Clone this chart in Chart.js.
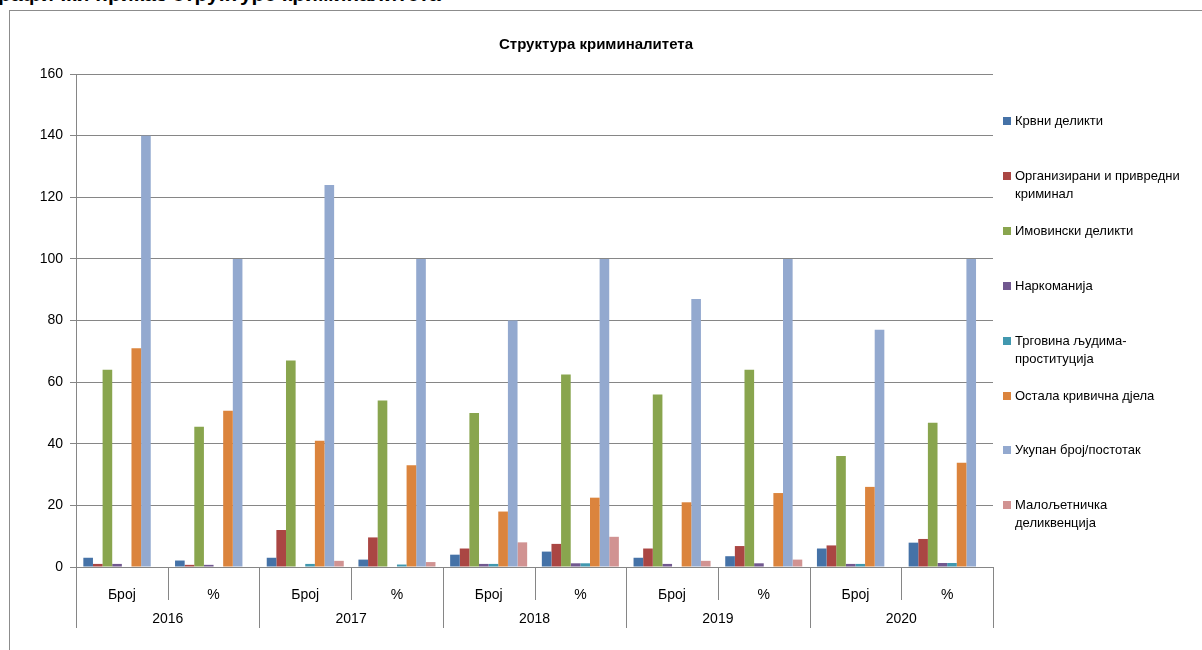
<!DOCTYPE html>
<html>
<head>
<meta charset="utf-8">
<script src="https://cdn.jsdelivr.net/npm/chart.js@4.4.1/dist/chart.umd.min.js"></script>
<style>
    body { margin: 0; width: 1202px; height: 650px; overflow: hidden; background: #fff; position: relative; font-family: 'Liberation Sans', Arial, sans-serif; }
    #head { position: absolute; left: -13px; top: -18px; font: bold 21px 'Liberation Sans', Arial, sans-serif; white-space: nowrap; color: #000; }
    #frame { position: absolute; left: 9px; top: 10px; width: 1300px; height: 700px; border: 1px solid #8c8c8c; background: #fff; }
    #wrap { position: absolute; left: 0; top: 0; width: 1202px; height: 650px; }
    #title { position: absolute; left: 396px; width: 400px; top: 35px; text-align: center; font: bold 15px 'Liberation Sans', Arial, sans-serif; color: #000; }
    #legend { position: absolute; left: 1003px; top: 0; }
    .item { position: absolute; left: 0; width: 195px; display: flex; align-items: flex-start; font-size: 13px; line-height: 18px; color: #000; white-space: pre-line; }
    .box { width: 8px; height: 8px; margin-top: 5px; margin-right: 4px; flex: none; }
</style>
</head>
<body>
<div id="head">Графички приказ структуре криминалитета</div>
<div id="frame"></div>
<div id="wrap"><canvas id="chart" width="1202" height="650"></canvas></div>
<div id="title">Структура криминалитета</div>
<div id="legend"></div>
<script>
// DATA
const categories = ['Број', '%', 'Број', '%', 'Број', '%', 'Број', '%', 'Број', '%'];
const years = ['2016', '2017', '2018', '2019', '2020'];
const yTicks = [0, 20, 40, 60, 80, 100, 120, 140, 160];

const seriesNames = [
    'Крвни деликти',
    'Организирани и привредни\nкриминал',
    'Имовински деликти',
    'Наркоманија',
    'Трговина људима-\nпроституција',
    'Остала кривична дјела',
    'Укупан број/постотак',
    'Малољетничка\nделиквенција'
];
const seriesColors = ['#4572A7', '#AA4643', '#89A54E', '#71588F', '#4198AF', '#DB843D', '#93A9CF', '#D19392'];

const krvni = [3, 2.1, 3, 2.4, 4, 5, 3, 3.5, 6, 7.9];
const organizirani = [1, 0.7, 12, 9.6, 6, 7.5, 6, 6.8, 7, 9.1];
const imovinski = [64, 45.5, 67, 54, 50, 62.5, 56, 64, 36, 46.8];
const narkomanija = [1, 0.7, 0, 0, 1, 1.2, 1, 1.2, 1, 1.3];
const trgovina = [0, 0, 1, 0.8, 1, 1.2, 0, 0, 1, 1.3];
const ostala = [71, 50.7, 41, 33, 18, 22.5, 21, 24, 26, 33.8];
const ukupno = [140, 100, 124, 100, 80, 100, 87, 100, 77, 100];
const maloljetnicka = [0, 0, 2, 1.6, 8, 9.8, 2, 2.4, 0, 0];

const seriesValues = [krvni, organizirani, imovinski, narkomanija, trgovina, ostala, ukupno, maloljetnicka];

// HTML legend
const legendEl = document.getElementById('legend');
seriesNames.forEach((name, i) => {
    const item = document.createElement('div');
    item.className = 'item';
    item.style.top = (112 + i * 54.9) + 'px';
    item.innerHTML = '<span class="box" style="background:' + seriesColors[i] + '"></span><span></span>';
    item.lastChild.textContent = name;
    legendEl.appendChild(item);
});

// year labels and separators under the category axis
const groupAxis = {
    id: 'groupAxis',
    afterDraw(chart) {
        const x = chart.scales.x;
        const ctx = chart.ctx;
        const bottom = chart.chartArea.bottom;
        const w = (x.right - x.left) / categories.length;
        ctx.save();
        ctx.strokeStyle = '#868686';
        ctx.lineWidth = 1;
        for (let i = 0; i <= categories.length; i++) {
            const px = Math.round(x.left + i * w) + 0.5;
            ctx.beginPath();
            ctx.moveTo(px, bottom);
            ctx.lineTo(px, bottom + (i % 2 === 0 ? 61 : 33));
            ctx.stroke();
        }
        ctx.fillStyle = '#000';
        ctx.font = "14px 'Liberation Sans', Arial, sans-serif";
        ctx.textAlign = 'center';
        ctx.textBaseline = 'middle';
        years.forEach((yr, k) => {
            const cx = x.left + (2 * k + 1) * w;
            ctx.fillText(yr, cx, bottom + 52);
        });
        ctx.restore();
    }
};

const ctx = document.getElementById('chart').getContext('2d');

new Chart(ctx, {
    type: 'bar',
    data: {
        labels: categories,
        datasets: seriesNames.map((name, i) => ({
            label: name,
            data: seriesValues[i],
            backgroundColor: seriesColors[i],
            borderWidth: 0,
            categoryPercentage: 0.84,
            barPercentage: 1.0
        }))
    },
    plugins: [groupAxis],
    options: {
        responsive: false,
        animation: false,
        layout: {
            padding: { left: 10, right: 209, top: 74, bottom: 22 }
        },
        plugins: {
            legend: { display: false },
            title: { display: false },
            tooltip: { enabled: false }
        },
        scales: {
            x: {
                grid: { display: false },
                border: { color: '#868686' },
                ticks: {
                    color: '#000',
                    padding: 12,
                    maxRotation: 0,
                    font: { family: "'Liberation Sans', Arial, sans-serif", size: 14 }
                },
                afterFit(scale) { scale.height = 61; }
            },
            y: {
                min: 0,
                max: 160,
                afterBuildTicks(scale) { scale.ticks = yTicks.map(v => ({ value: v })); },
                grid: { color: '#868686', tickLength: 6 },
                border: { color: '#868686' },
                ticks: {
                    color: '#000',
                    padding: 7,
                    font: { family: "'Liberation Sans', Arial, sans-serif", size: 14 }
                },
                afterFit(scale) { scale.width = 66; }
            }
        }
    }
});
</script>
</body>
</html>
